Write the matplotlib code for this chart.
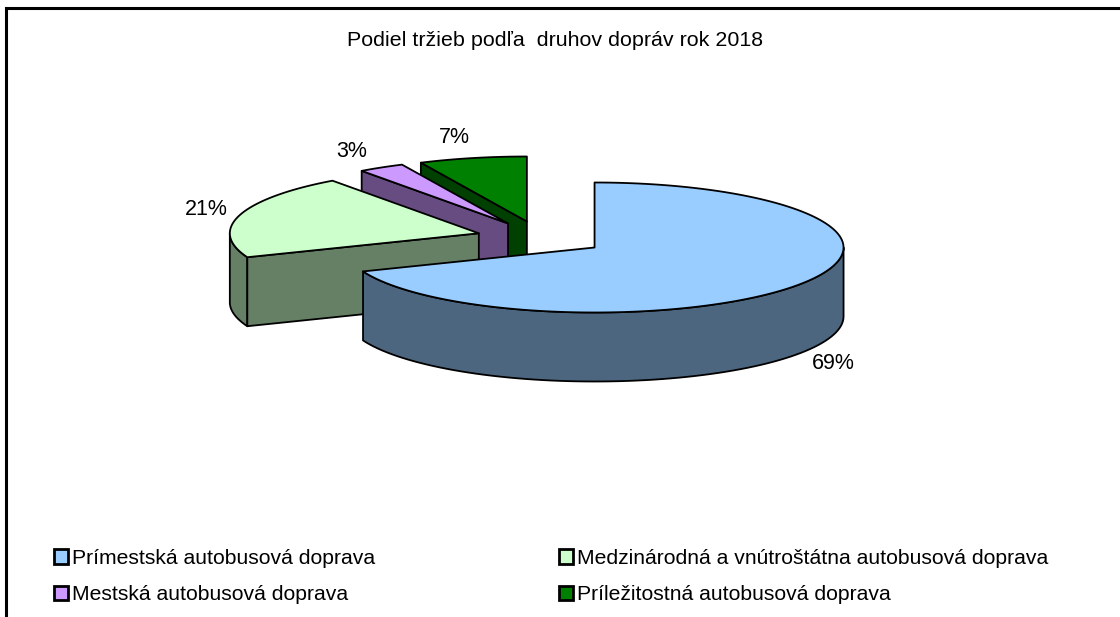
import numpy as np
import matplotlib
matplotlib.use('Agg')
import matplotlib.pyplot as plt
from matplotlib.patches import Polygon, Patch

plt.rcParams['font.family'] = ['Liberation Sans', 'DejaVu Sans']

# === data ===
title = "Podiel tržieb podľa  druhov dopráv rok 2018"
categories = ["Prímestská autobusová doprava",
              "Medzinárodná a vnútroštátna autobusová doprava",
              "Mestská autobusová doprava",
              "Príležitostná autobusová doprava"]
shares = [69, 21, 3, 7]
top_colors = ["#99CCFF", "#CCFFCC", "#CC99FF", "#008000"]
side_colors = ["#4C6680", "#668066", "#664C80", "#004000"]

# === layout (pixels) ===
CX, CY = 541, 238       # pie centre before explosion
RX, RY = 249, 65        # ellipse radii of top face
DEPTH = 69              # thickness
EXPLODE = 0.26
label_nudge = [(-8, 3), (14, 8), (-4, 5), (-7, 2)]

fig = plt.figure(figsize=(11.2, 6.17), dpi=100)
ax = fig.add_axes([0, 0, 1, 1])
ax.set_xlim(0, 1120)
ax.set_ylim(617, 0)
ax.axis('off')

# frame (only top/left visible in the original crop)
ax.plot([5.5, 5.5, 1121], [618, 7.5, 7.5], color='black', lw=2.2, solid_joinstyle='miter')

total = sum(shares)
edge_kw = dict(edgecolor='black', lw=1.3, joinstyle='round')


def pt(ox, oy, t, z=0.0):
    return (ox + RX * np.cos(t), oy - RY * np.sin(t) + z * DEPTH)


slices = []
cum = 0.0
for i, v in enumerate(shares):
    a_hi = np.radians(90 - cum / total * 360)
    a_lo = np.radians(90 - (cum + v) / total * 360)
    cum += v
    m = (a_lo + a_hi) / 2
    ox = CX + EXPLODE * RX * np.cos(m)
    oy = CY - EXPLODE * RY * np.sin(m)
    slices.append((i, a_lo, a_hi, m, ox, oy))

# back to front
for i, a_lo, a_hi, m, ox, oy in sorted(slices, key=lambda s: -np.sin(s[3])):
    # outer wall, front half only
    for k in range(-2, 2):
        w0 = max(a_lo, np.pi + 2 * k * np.pi)
        w1 = min(a_hi, 2 * np.pi + 2 * k * np.pi)
        if w1 > w0:
            t = np.linspace(w0, w1, 80)
            top = [pt(ox, oy, tt) for tt in t]
            bot = [pt(ox, oy, tt, 1) for tt in t[::-1]]
            ax.add_patch(Polygon(top + bot, closed=True, facecolor=side_colors[i], **edge_kw))
    # cut faces facing the viewer
    for a, vis in ((a_lo, np.cos(a_lo) > 1e-6), (a_hi, np.cos(a_hi) < -1e-6)):
        if vis:
            face = [(ox, oy), pt(ox, oy, a), pt(ox, oy, a, 1), (ox, oy + DEPTH)]
            ax.add_patch(Polygon(face, closed=True, facecolor=side_colors[i], **edge_kw))
    # top face
    t = np.linspace(a_lo, a_hi, 150)
    top = [(ox, oy)] + [pt(ox, oy, tt) for tt in t]
    ax.add_patch(Polygon(top, closed=True, facecolor=top_colors[i], **edge_kw))

# data labels
for i, a_lo, a_hi, m, ox, oy in slices:
    lx = ox + 1.2 * RX * np.cos(m) + label_nudge[i][0]
    ly = oy - 1.2 * RY * np.sin(m) + (DEPTH if np.sin(m) < 0 else -10) + label_nudge[i][1]
    ax.text(lx, ly, f"{shares[i]}%", ha='center', va='center', fontsize=15.5)

ax.text(555, 40, title, ha='center', va='center', fontsize=15.4)

# legend, row-wise order as in the original
order = [0, 2, 1, 3]
handles = [Patch(facecolor=top_colors[j], edgecolor='black', lw=2) for j in order]
ax.legend(handles, [categories[j] for j in order], ncol=2, frameon=False,
          loc='upper left', bbox_to_anchor=(54, 549), bbox_transform=ax.transData,
          fontsize=15.2, handlelength=0.66, handleheight=0.66, handletextpad=0.19,
          columnspacing=8.7, labelspacing=0.82, borderpad=0, borderaxespad=0)

fig.savefig("out.png", dpi=100)
